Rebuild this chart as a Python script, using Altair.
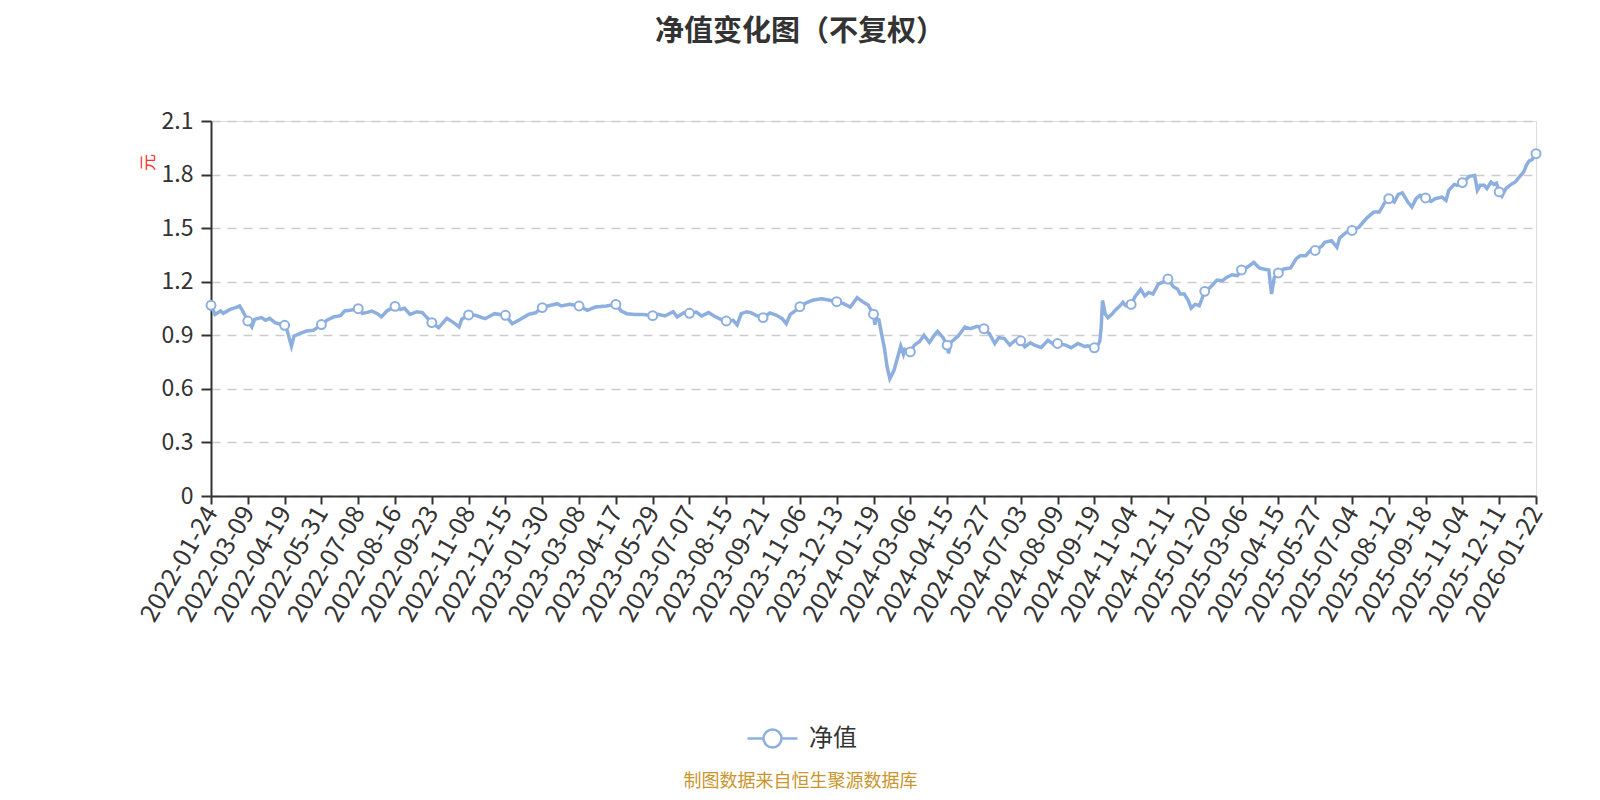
import altair as alt
import pandas as pd

# x-axis tick labels (every 27th trading day)
date_labels = [
    "2022-01-24", "2022-03-09", "2022-04-19", "2022-05-31", "2022-07-08", "2022-08-16",
    "2022-09-23", "2022-11-08", "2022-12-15", "2023-01-30", "2023-03-08", "2023-04-17",
    "2023-05-29", "2023-07-07", "2023-08-15", "2023-09-21", "2023-11-06", "2023-12-13",
    "2024-01-19", "2024-03-06", "2024-04-15", "2024-05-27", "2024-07-03", "2024-08-09",
    "2024-09-19", "2024-11-04", "2024-12-11", "2025-01-20", "2025-03-06", "2025-04-15",
    "2025-05-27", "2025-07-04", "2025-08-12", "2025-09-18", "2025-11-04", "2025-12-11",
    "2026-01-22",
]

# trading-day index of each sampled point
day_index = [
    0, 3, 7, 9, 14, 18, 21, 23, 27, 30, 32, 37, 40, 43, 47, 51, 54, 56, 59, 61, 65, 70, 75, 78,
    81, 85, 90, 95, 98, 102, 108, 111, 114, 118, 122, 125, 129, 135, 139, 142, 146, 151, 155,
    162, 167, 173, 178, 182, 184, 189, 194, 201, 208, 216, 221, 227, 233, 238, 243, 247, 254,
    257, 263, 270, 276, 282, 290, 297, 301, 305, 311, 317, 324, 328, 333, 339, 342, 347, 351,
    356, 360, 365, 369, 374, 378, 383, 386, 389, 393, 396, 401, 405, 410, 415, 419, 422, 425,
    429, 432, 437, 442, 448, 453, 459, 464, 469, 474, 479, 482, 486, 487, 488, 490, 492, 494,
    496, 498, 501, 503, 506, 508, 509, 513, 516, 520, 523, 527, 531, 533, 537, 540, 541, 543,
    548, 553, 557, 562, 567, 571, 575, 578, 582, 586, 590, 594, 597, 601, 604, 609, 614, 618,
    621, 627, 631, 636, 641, 643, 648, 650, 652, 653, 654, 656, 658, 661, 663, 667, 669, 671,
    675, 678, 682, 685, 688, 691, 695, 699, 702, 706, 709, 711, 714, 717, 719, 722, 725, 729,
    733, 738, 742, 745, 749, 753, 756, 760, 765, 769, 772, 776, 778, 780, 783, 787, 792, 796,
    799, 803, 807, 810, 815, 817, 822, 826, 828, 833, 837, 842, 848, 853, 857, 862, 864, 868,
    871, 874, 878, 881, 884, 887, 891, 895, 898, 903, 906, 908, 912, 914, 918, 923, 927, 929,
    931, 934, 936, 939, 941, 943, 945, 947, 950, 953, 957, 960, 963, 965, 967, 969, 972,
]

# net asset value (元)
nav = [
    1.068, 1.017, 1.036, 1.023, 1.045, 1.055, 1.064, 1.040, 0.980, 0.947, 0.989, 0.999, 0.984,
    0.995, 0.971, 0.962, 0.956, 0.924, 0.840, 0.896, 0.909, 0.924, 0.928, 0.943, 0.960, 0.984,
    1.003, 1.010, 1.036, 1.040, 1.049, 1.023, 1.027, 1.036, 1.021, 1.003, 1.036, 1.062, 1.045,
    1.051, 1.017, 1.032, 1.027, 0.971, 0.943, 0.995, 0.971, 0.947, 0.990, 1.014, 1.012, 0.993,
    1.021, 1.012, 0.965, 0.990, 1.017, 1.026, 1.055, 1.064, 1.077, 1.064, 1.073, 1.064, 1.040,
    1.058, 1.064, 1.073, 1.036, 1.021, 1.017, 1.017, 1.010, 1.017, 1.008, 1.032, 1.003, 1.027,
    1.023, 1.030, 1.008, 1.027, 1.008, 0.989, 0.980, 0.984, 0.958, 1.021, 1.032, 1.027, 1.008,
    0.999, 1.025, 1.012, 0.993, 0.965, 1.017, 1.040, 1.060, 1.083, 1.098, 1.105, 1.098, 1.088,
    1.077, 1.058, 1.111, 1.083, 1.070, 1.018, 0.959, 0.995, 0.986, 0.904, 0.830, 0.721, 0.657,
    0.702, 0.757, 0.840, 0.794, 0.821, 0.807, 0.845, 0.867, 0.900, 0.860, 0.904, 0.922, 0.887,
    0.845, 0.799, 0.863, 0.895, 0.946, 0.937, 0.950, 0.937, 0.909, 0.854, 0.887, 0.882, 0.845,
    0.872, 0.869, 0.836, 0.858, 0.845, 0.832, 0.872, 0.850, 0.854, 0.845, 0.830, 0.854, 0.837,
    0.841, 0.830, 0.837, 0.866, 0.942, 1.095, 1.019, 0.999, 1.019, 1.038, 1.066, 1.085, 1.066,
    1.073, 1.118, 1.157, 1.121, 1.140, 1.131, 1.187, 1.200, 1.215, 1.172, 1.159, 1.131, 1.131,
    1.093, 1.052, 1.074, 1.065, 1.146, 1.168, 1.209, 1.206, 1.224, 1.239, 1.234, 1.266, 1.280,
    1.308, 1.277, 1.271, 1.266, 1.131, 1.224, 1.249, 1.271, 1.277, 1.328, 1.346, 1.346, 1.378,
    1.375, 1.400, 1.421, 1.430, 1.393, 1.446, 1.477, 1.487, 1.505, 1.558, 1.590, 1.590, 1.655,
    1.665, 1.646, 1.689, 1.697, 1.646, 1.618, 1.665, 1.684, 1.669, 1.650, 1.665, 1.674, 1.655,
    1.712, 1.745, 1.740, 1.755, 1.790, 1.795, 1.713, 1.740, 1.740, 1.722, 1.758, 1.745, 1.752,
    1.703, 1.680, 1.722, 1.741, 1.760, 1.788, 1.815, 1.853, 1.876, 1.883, 1.917,
]

y_ticks = [0, 0.3, 0.6, 0.9, 1.2, 1.5, 1.8, 2.1]
series_name = "净值"

df = pd.DataFrame({"idx": day_index, "nav": nav, "series": series_name})

LINE = "#8DAFE0"
FONT = "Noto Sans CJK SC"
W, H = 1325, 375

label_expr = "[" + ",".join("'%s'" % d for d in date_labels) + "][round(datum.value / 27)]"
legend_symbol = ("M-1,0L-0.36,0M0.36,0L1,0"
                 "M-0.36,0A0.36,0.36,0,1,0,0.36,0A0.36,0.36,0,1,0,-0.36,0Z")

x_enc = alt.X(
    "idx:Q",
    scale=alt.Scale(domain=[0, 972], nice=False, zero=False),
    axis=alt.Axis(
        values=list(range(0, 973, 27)),
        labelExpr=label_expr,
        labelAngle=-60,
        labelAlign="right",
        labelBaseline="middle",
        labelFontSize=25,
        labelFont=FONT,
        labelColor="#333333",
        labelPadding=4,
        labelOverlap=False,
        labelFlush=False,
        labelBound=False,
        tickSize=8,
        tickWidth=2,
        tickColor="#333333",
        domainColor="#333333",
        domainWidth=2,
        grid=False,
        title="制图数据来自恒生聚源数据库",
        titleColor="#C9952C",
        titleFont=FONT,
        titleFontSize=18,
        titleFontWeight="normal",
        titleX=589,
        titleY=285,
        titleAlign="center",
        titleBaseline="middle",
    ),
)

y_enc = alt.Y(
    "nav:Q",
    scale=alt.Scale(domain=[0, 2.1], nice=False, zero=True),
    axis=alt.Axis(
        values=y_ticks,
        format=".1~f",
        labelFontSize=23,
        labelFont=FONT,
        labelColor="#333333",
        labelPadding=8,
        tickSize=10,
        tickWidth=2,
        tickColor="#333333",
        domainColor="#333333",
        domainWidth=2,
        grid=True,
        gridColor="#CCCCCC",
        gridDash=[9, 7],
        gridWidth=1.5,
        title="元",
        titleColor="#FF3333",
        titleFont=FONT,
        titleFontSize=17,
        titleFontWeight="normal",
        titleAngle=270,
        titleX=-63,
        titleY=41,
        titleAlign="center",
        titleBaseline="middle",
    ),
)

base = alt.Chart(df).encode(x=x_enc, y=y_enc)

line = base.mark_line(strokeWidth=3.5, interpolate="linear").encode(
    color=alt.Color(
        "series:N",
        scale=alt.Scale(range=[LINE]),
        legend=alt.Legend(
            title=None,
            orient="none",
            legendX=535,
            legendY=591,
            symbolType=legend_symbol,
            symbolSize=2500,
            symbolStrokeWidth=2.5,
            symbolFillColor="white",
            symbolStrokeColor=LINE,
            labelFontSize=24,
            labelFont=FONT,
            labelColor="#333333",
            labelOffset=10,
            padding=0,
        ),
    ),
)

points = base.transform_filter("datum.idx % 27 == 0").mark_point(
    shape="circle", filled=True, fill="white", stroke=LINE, strokeWidth=2, size=80, opacity=1
)

chart = alt.layer(line, points).properties(
    width=W,
    height=H,
    title=alt.TitleParams(
        "净值变化图（不复权）",
        anchor="middle",
        frame="group",
        dx=-73.5,
        offset=63,
        fontSize=29,
        fontWeight="bold",
        font=FONT,
        color="#333333",
    ),
    autosize=alt.AutoSizeParams(type="none"),
    padding={"left": 203, "top": 113, "right": 56, "bottom": 296},
).configure_view(stroke=None).configure(background="white")

chart.save("out.html", embed_options={"renderer": "svg", "actions": False})
